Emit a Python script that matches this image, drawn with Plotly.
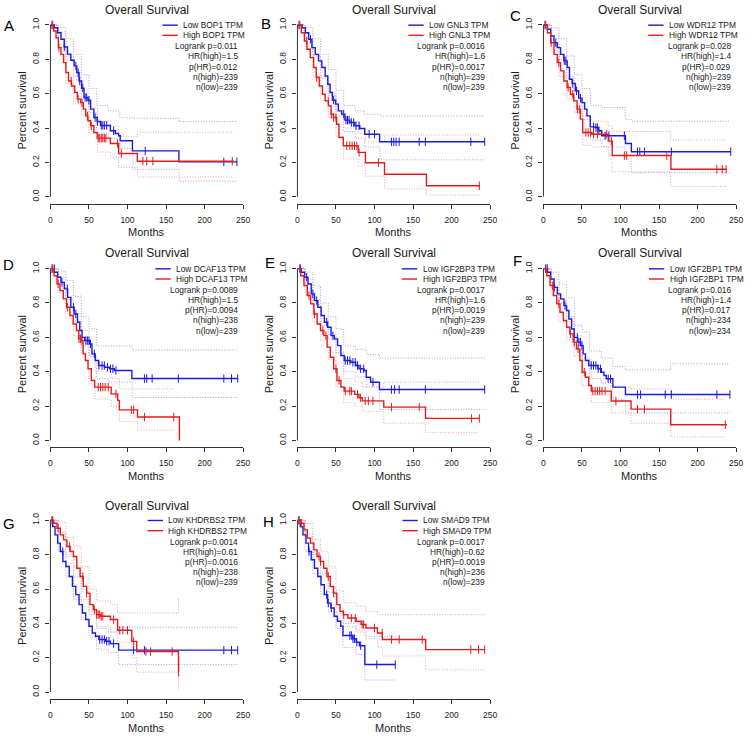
import plotly.graph_objects as go

W, H = 753, 736

# ---------------- DATA ----------------
# A: BOP1
BOP1_low_t = [0, 5.1, 9.4, 13.7, 17.9, 22.2, 26.5, 30.8, 34.2, 37.2, 40.6, 43.6, 48.7, 52.1, 56.4, 60.7, 65, 77.8, 84.2, 88.5, 90.6, 106.4, 166.7, 242.3]
BOP1_low_s = [1, 0.984, 0.955, 0.917, 0.872, 0.83, 0.795, 0.762, 0.723, 0.674, 0.632, 0.578, 0.562, 0.51, 0.461, 0.438, 0.415, 0.384, 0.368, 0.355, 0.326, 0.267, 0.203, 0.203]
BOP1_high_t = [0, 4.3, 7.3, 10.3, 13.7, 17.1, 20.1, 23.5, 27.4, 31.6, 35, 39.3, 42.7, 45.7, 48.7, 52.1, 56.4, 60.7, 77.8, 88.5, 112.8, 238]
BOP1_high_s = [1, 0.965, 0.926, 0.868, 0.829, 0.781, 0.723, 0.674, 0.645, 0.607, 0.568, 0.548, 0.51, 0.471, 0.442, 0.413, 0.374, 0.341, 0.31, 0.252, 0.207, 0.207]
BOP1_low_cens = [2, 18, 33, 36, 38, 42, 45, 47, 50, 58, 61, 66, 68, 70, 73, 82, 123, 225, 242]
BOP1_high_cens = [3, 11, 27, 36, 41, 48, 53, 62, 64, 66, 68, 70, 72, 87, 92, 120, 125, 133, 236]
BOP1_low_ci_t = [0, 10, 20, 30, 40, 50, 60, 75, 90, 107, 167, 242]
BOP1_low_up = [1, 0.985, 0.92, 0.83, 0.71, 0.63, 0.53, 0.50, 0.46, 0.457, 0.438, 0.438]
BOP1_low_lo = [1, 0.92, 0.82, 0.70, 0.57, 0.49, 0.37, 0.34, 0.28, 0.16, 0.09, 0.09]
BOP1_high_ci_t = [0, 10, 20, 30, 40, 50, 61, 78, 88.5, 112.8, 238]
BOP1_high_up = [1, 0.96, 0.79, 0.68, 0.62, 0.52, 0.44, 0.41, 0.35, 0.375, 0.375]
BOP1_high_lo = [1, 0.87, 0.66, 0.54, 0.48, 0.37, 0.26, 0.23, 0.17, 0.115, 0.115]

# B: GNL3
GNL3_low_t = [0, 6, 10.3, 14.6, 18.8, 23.1, 27.4, 31.7, 36, 39.4, 42.4, 45.4, 49.7, 53.1, 57.4, 61.6, 68.1, 74.5, 80.9, 87.3, 106.6, 243]
GNL3_low_s = [1, 0.984, 0.955, 0.917, 0.868, 0.829, 0.791, 0.752, 0.703, 0.655, 0.607, 0.562, 0.539, 0.5, 0.481, 0.446, 0.432, 0.413, 0.397, 0.364, 0.32, 0.32]
GNL3_high_t = [0, 5.1, 9, 12.4, 16.7, 21, 24.4, 28.3, 32.5, 36, 40.2, 43.7, 46.7, 50.9, 53.9, 59.5, 78.8, 88.2, 113, 167.4, 237]
GNL3_high_s = [1, 0.955, 0.907, 0.859, 0.81, 0.752, 0.694, 0.645, 0.597, 0.558, 0.529, 0.481, 0.461, 0.422, 0.345, 0.297, 0.258, 0.198, 0.131, 0.064, 0.064]
GNL3_low_cens = [2, 17, 47, 60, 63, 65, 67, 70, 73, 76, 80, 93, 100, 122, 125, 128, 132, 158, 166, 225, 243]
GNL3_high_cens = [3, 12, 25, 40, 44, 47, 50, 64, 68, 71, 74, 77, 80, 105, 236]
GNL3_low_ci_t = [0, 10, 20, 30, 40, 50, 60, 75, 87, 107, 243]
GNL3_low_up = [1, 0.985, 0.92, 0.83, 0.74, 0.62, 0.53, 0.50, 0.48, 0.47, 0.47]
GNL3_low_lo = [1, 0.92, 0.82, 0.70, 0.59, 0.47, 0.38, 0.34, 0.29, 0.215, 0.215]
GNL3_high_ci_t = [0, 10, 20, 30, 40, 50, 60, 79, 88, 113, 167, 237]
GNL3_high_up = [1, 0.95, 0.82, 0.69, 0.61, 0.50, 0.40, 0.37, 0.32, 0.36, 0.36, 0.36]
GNL3_high_lo = [1, 0.86, 0.70, 0.56, 0.46, 0.35, 0.22, 0.18, 0.12, 0.045, 0.01, 0.01]

# C: WDR12
WDR12_low_t = [0, 5.1, 9.4, 13.7, 17.9, 22.2, 26.5, 30.8, 33.8, 37.2, 41.5, 45.7, 50, 53.4, 56.4, 60.7, 67.1, 71.4, 75.6, 106.4, 114.1, 243]
WDR12_low_s = [1, 0.975, 0.936, 0.897, 0.868, 0.829, 0.791, 0.752, 0.684, 0.659, 0.616, 0.574, 0.548, 0.51, 0.471, 0.407, 0.403, 0.384, 0.355, 0.31, 0.262, 0.262]
WDR12_high_t = [0, 5.1, 9.4, 13.7, 17.9, 22.2, 26.5, 30.8, 35, 39.3, 43.6, 47.9, 50.9, 62.8, 84.2, 89.3, 165.4, 238]
WDR12_high_s = [1, 0.955, 0.897, 0.829, 0.781, 0.733, 0.674, 0.636, 0.597, 0.558, 0.51, 0.452, 0.374, 0.364, 0.324, 0.24, 0.16, 0.16]
WDR12_low_cens = [2, 16, 27, 29, 38, 43, 48, 65, 68, 70, 72, 80, 85, 105, 122, 125, 131, 166, 243]
WDR12_high_cens = [3, 10, 20, 32, 38, 44, 47, 55, 58, 61, 65, 70, 82, 88, 105, 108, 160, 225, 232, 237]
WDR12_low_ci_t = [0, 10, 20, 30, 40, 50, 61, 76, 106, 114, 243]
WDR12_low_up = [1, 0.985, 0.92, 0.82, 0.71, 0.63, 0.53, 0.52, 0.45, 0.44, 0.44]
WDR12_low_lo = [1, 0.89, 0.80, 0.69, 0.56, 0.47, 0.33, 0.29, 0.22, 0.14, 0.14]
WDR12_high_ci_t = [0, 10, 20, 30, 40, 51, 63, 84, 89, 165, 238]
WDR12_high_up = [1, 0.94, 0.82, 0.70, 0.62, 0.45, 0.44, 0.41, 0.38, 0.33, 0.33]
WDR12_high_lo = [1, 0.85, 0.70, 0.57, 0.49, 0.30, 0.29, 0.25, 0.145, 0.06, 0.06]

# D: DCAF13
DCAF13_low_t = [0, 5.1, 9.4, 13.7, 18, 22.3, 26.5, 30.8, 35.1, 38.1, 41.1, 44.5, 50.9, 53.9, 58.2, 62.5, 70.2, 76.6, 83, 105.7, 243]
DCAF13_low_s = [1, 0.979, 0.95, 0.92, 0.882, 0.833, 0.775, 0.736, 0.688, 0.64, 0.60, 0.581, 0.562, 0.504, 0.465, 0.436, 0.426, 0.417, 0.407, 0.36, 0.36]
DCAF13_high_t = [0, 4.7, 8.6, 12.4, 16.7, 21, 25.3, 29.5, 33.8, 36.8, 40.2, 42.4, 45.4, 48.8, 53.1, 57.4, 78.8, 87.3, 89.5, 113, 167.4]
DCAF13_high_s = [1, 0.959, 0.911, 0.872, 0.824, 0.775, 0.727, 0.678, 0.64, 0.591, 0.581, 0.504, 0.465, 0.417, 0.349, 0.31, 0.271, 0.233, 0.178, 0.136, 0.0]
DCAF13_low_cens = [2, 5, 15, 22, 30, 33, 46, 48, 50, 52, 57, 63, 67, 70, 74, 78, 81, 85, 122, 125, 132, 166, 225, 235, 243]
DCAF13_high_cens = [3, 10, 22, 37, 39, 41, 62, 65, 68, 71, 75, 85, 105, 108, 122, 160]
DCAF13_low_ci_t = [0, 10, 20, 30, 40, 50, 60, 75, 106, 243]
DCAF13_low_up = [1, 0.985, 0.93, 0.84, 0.72, 0.65, 0.55, 0.55, 0.527, 0.527]
DCAF13_low_lo = [1, 0.91, 0.82, 0.69, 0.55, 0.49, 0.36, 0.34, 0.25, 0.25]
DCAF13_high_ci_t = [0, 10, 20, 30, 40, 50, 58, 79, 89.5, 113, 160]
DCAF13_high_up = [1, 0.95, 0.83, 0.74, 0.64, 0.50, 0.40, 0.36, 0.30, 0.30, 0.30]
DCAF13_high_lo = [1, 0.86, 0.71, 0.61, 0.51, 0.33, 0.24, 0.20, 0.11, 0.06, 0.06]

# E: IGF2BP3
IGF2BP3_low_t = [0, 5.1, 9.4, 13.7, 17.9, 22.2, 26.5, 30.8, 35, 39.3, 43.6, 47.9, 52.1, 56.4, 60.7, 69.2, 75.6, 79.9, 86.3, 89.3, 94.9, 106.4, 243]
IGF2BP3_low_s = [1, 0.979, 0.95, 0.911, 0.853, 0.814, 0.775, 0.727, 0.688, 0.659, 0.61, 0.591, 0.552, 0.494, 0.465, 0.455, 0.436, 0.417, 0.407, 0.368, 0.339, 0.296, 0.296]
IGF2BP3_high_t = [0, 4.3, 8.5, 12.8, 17.1, 21.4, 25.6, 29.9, 34.2, 38.5, 42.7, 47, 51.3, 56.4, 60.7, 74.4, 79.9, 84.2, 112, 166.2, 236]
IGF2BP3_high_s = [1, 0.959, 0.901, 0.843, 0.795, 0.736, 0.678, 0.64, 0.61, 0.543, 0.484, 0.417, 0.349, 0.31, 0.287, 0.268, 0.248, 0.23, 0.194, 0.128, 0.128]
IGF2BP3_low_cens = [3, 12, 20, 25, 38, 46, 62, 65, 68, 72, 75, 78, 82, 86, 98, 122, 126, 132, 166, 243]
IGF2BP3_high_cens = [4, 15, 22, 33, 37, 50, 54, 62, 68, 70, 78, 82, 88, 92, 98, 122, 158, 226, 236]
IGF2BP3_low_ci_t = [0, 10, 20, 30, 40, 50, 60, 75, 90, 106.4, 243]
IGF2BP3_low_up = [1, 0.98, 0.90, 0.80, 0.72, 0.65, 0.55, 0.53, 0.50, 0.48, 0.48]
IGF2BP3_low_lo = [1, 0.91, 0.79, 0.67, 0.59, 0.51, 0.40, 0.37, 0.31, 0.18, 0.18]
IGF2BP3_high_ci_t = [0, 10, 20, 30, 40, 50, 60, 75, 84, 112, 166, 236]
IGF2BP3_high_up = [1, 0.94, 0.82, 0.71, 0.62, 0.45, 0.36, 0.34, 0.31, 0.34, 0.34, 0.34]
IGF2BP3_high_lo = [1, 0.85, 0.69, 0.58, 0.47, 0.31, 0.22, 0.20, 0.17, 0.10, 0.045, 0.045]

# F: IGF2BP1
IGF2BP1_low_t = [0, 5.2, 9.4, 13.7, 18, 22.3, 26.6, 30, 33, 36.5, 39.9, 44.2, 48.5, 51.5, 54.5, 58.8, 70.8, 75.1, 78.5, 81.5, 90.1, 106.4, 242]
IGF2BP1_low_s = [1, 0.979, 0.94, 0.891, 0.853, 0.824, 0.785, 0.756, 0.707, 0.649, 0.60, 0.572, 0.552, 0.504, 0.465, 0.436, 0.417, 0.397, 0.378, 0.359, 0.31, 0.267, 0.267]
IGF2BP1_high_t = [0, 4.3, 8.6, 12.9, 17.2, 21.5, 25.8, 30, 34.3, 38.6, 42.9, 47.2, 50.2, 54.5, 58.8, 62.2, 88, 113.7, 165.2, 238]
IGF2BP1_high_s = [1, 0.959, 0.901, 0.843, 0.795, 0.746, 0.698, 0.659, 0.62, 0.572, 0.533, 0.465, 0.397, 0.368, 0.32, 0.287, 0.229, 0.182, 0.091, 0.091]
IGF2BP1_low_cens = [3, 5, 14, 28, 44, 46, 48, 50, 62, 65, 68, 71, 74, 84, 87, 122, 126, 158, 166, 225, 242]
IGF2BP1_high_cens = [3, 12, 20, 35, 40, 45, 53, 64, 67, 70, 73, 76, 80, 94, 122, 131, 236]
IGF2BP1_low_ci_t = [0, 10, 20, 30, 40, 50, 60, 75, 90, 106.4, 165, 242]
IGF2BP1_low_up = [1, 0.98, 0.91, 0.83, 0.67, 0.63, 0.52, 0.48, 0.43, 0.41, 0.446, 0.446]
IGF2BP1_low_lo = [1, 0.90, 0.80, 0.69, 0.53, 0.48, 0.36, 0.33, 0.24, 0.16, 0.16, 0.16]
IGF2BP1_high_ci_t = [0, 10, 20, 30, 40, 50, 62, 88, 113.7, 165.2, 236]
IGF2BP1_high_up = [1, 0.94, 0.82, 0.72, 0.61, 0.47, 0.36, 0.31, 0.30, 0.24, 0.24]
IGF2BP1_high_lo = [1, 0.85, 0.69, 0.59, 0.49, 0.32, 0.22, 0.16, 0.10, 0.02, 0.02]

# G: KHDRBS2
KHDRBS2_low_t = [0, 3, 6, 9.4, 12.8, 16.2, 20.1, 24.4, 28.6, 32.9, 37.2, 41.5, 45.7, 50, 54.3, 58.5, 62.8, 71.4, 77.8, 88.5, 243]
KHDRBS2_low_s = [1, 0.963, 0.915, 0.867, 0.818, 0.76, 0.731, 0.673, 0.615, 0.567, 0.509, 0.46, 0.422, 0.383, 0.344, 0.325, 0.306, 0.296, 0.282, 0.244, 0.244]
KHDRBS2_high_t = [0, 4.3, 8.5, 12.8, 17.1, 21.4, 25.6, 29.9, 34.2, 38.5, 42.7, 47, 51.3, 55.6, 59.8, 65, 77.8, 87.2, 105.6, 112, 166.2]
KHDRBS2_high_s = [1, 0.983, 0.954, 0.915, 0.886, 0.847, 0.818, 0.789, 0.721, 0.673, 0.615, 0.576, 0.509, 0.48, 0.451, 0.441, 0.422, 0.36, 0.295, 0.236, 0.115]
KHDRBS2_low_cens = [2, 16, 64, 67, 70, 73, 76, 82, 108, 122, 225, 235, 243]
KHDRBS2_high_cens = [3, 10, 25, 42, 47, 57, 60, 62, 64, 66, 68, 82, 90, 94, 100, 108, 124, 130, 158, 166.2]
KHDRBS2_low_ci_t = [0, 10, 20, 30, 40, 50, 60, 75, 88.5, 243]
KHDRBS2_low_up = [1, 0.93, 0.79, 0.67, 0.54, 0.45, 0.37, 0.35, 0.377, 0.377]
KHDRBS2_low_lo = [1, 0.82, 0.67, 0.54, 0.42, 0.32, 0.25, 0.23, 0.16, 0.16]
KHDRBS2_high_ci_t = [0, 10, 20, 30, 40, 50, 60, 78, 87, 106, 112, 166.2]
KHDRBS2_high_up = [1, 0.99, 0.90, 0.85, 0.73, 0.60, 0.53, 0.51, 0.46, 0.46, 0.46, 0.553]
KHDRBS2_high_lo = [1, 0.92, 0.80, 0.73, 0.60, 0.47, 0.38, 0.35, 0.29, 0.20, 0.116, 0.015]

# H: SMAD9
SMAD9_low_t = [0, 3.8, 7.2, 11.1, 14.5, 17.9, 22.1, 26.4, 30.6, 34.9, 39.1, 43.4, 47.7, 51.9, 56.2, 59.1, 71.9, 76.2, 80.4, 87.5, 127]
SMAD9_low_s = [1, 0.963, 0.915, 0.867, 0.818, 0.77, 0.721, 0.673, 0.625, 0.567, 0.518, 0.489, 0.441, 0.412, 0.383, 0.329, 0.31, 0.29, 0.27, 0.16, 0.16]
SMAD9_high_t = [0, 4.3, 8.5, 12.8, 17, 21.3, 25.5, 29.8, 34, 38.3, 42.6, 46.8, 51.1, 55.3, 59.6, 65.5, 76.2, 82.6, 88.9, 103.8, 110.2, 166.4, 243]
SMAD9_high_s = [1, 0.983, 0.944, 0.896, 0.867, 0.828, 0.789, 0.76, 0.721, 0.673, 0.615, 0.576, 0.509, 0.47, 0.451, 0.431, 0.412, 0.393, 0.373, 0.344, 0.306, 0.247, 0.247]
SMAD9_low_cens = [2, 15, 38, 40, 44, 68, 70, 72, 74, 77, 82, 103, 127]
SMAD9_high_cens = [2, 5, 28, 30, 40, 47, 60, 70, 75, 84, 86, 100, 110, 122, 132, 162, 225, 235, 243]
SMAD9_low_ci_t = [0, 10, 20, 30, 40, 50, 59, 76, 87.5, 127]
SMAD9_low_up = [1, 0.92, 0.80, 0.69, 0.58, 0.49, 0.40, 0.36, 0.325, 0.325]
SMAD9_low_lo = [1, 0.82, 0.69, 0.57, 0.47, 0.37, 0.26, 0.22, 0.07, 0.07]
SMAD9_high_ci_t = [0, 10, 20, 30, 40, 50, 60, 76, 89, 104, 110.2, 166.4, 243]
SMAD9_high_up = [1, 0.98, 0.89, 0.82, 0.73, 0.59, 0.52, 0.50, 0.47, 0.45, 0.45, 0.45, 0.45]
SMAD9_high_lo = [1, 0.90, 0.79, 0.70, 0.61, 0.46, 0.38, 0.35, 0.31, 0.26, 0.21, 0.13, 0.13]

letters = ["A", "B", "C", "D", "E", "F", "G", "H"]
genes = ["BOP1", "GNL3", "WDR12", "DCAF13", "IGF2BP3", "IGF2BP1", "KHDRBS2", "SMAD9"]
logrank_p = ["0.011", "0.0016", "0.028", "0.0089", "0.0017", "0.016", "0.0014", "0.0017"]
hr_high = ["1.5", "1.6", "1.4", "1.5", "1.6", "1.4", "0.61", "0.62"]
p_hr = ["0.012", "0.0017", "0.029", "0.0094", "0.0019", "0.017", "0.0016", "0.0019"]
n_high = [239, 239, 239, 238, 239, 234, 238, 236]
n_low = [239, 239, 239, 239, 239, 234, 239, 239]
x_ticks = [0, 50, 100, 150, 200, 250]
y_ticks = [0, 0.2, 0.4, 0.6, 0.8, 1.0]
y_ticktext = ["0.0", "0.2", "0.4", "0.6", "0.8", "1.0"]

# ---------------- LAYOUT CONSTANTS (pixels) ----------------
col_left = [49, 299, 548]
plot_w = 195
row_top = [24, 268, 520]       # pixel of survival = 1.0
unit_h = 172                   # pixels per 1.0 of survival
title_y = [9, 252.7, 506]
months_y = [231, 476, 728]
letter_pos = [(7, 25), (267, 23), (520, 15), (7, 264), (271, 262), (522, 260), (7, 523), (270, 521)]
legend_text_x = [132.4, 131.3, 125, 125.3, 124.7, 125.7, 117.4, 125.3]

BLUE = "#1a1ae6"
RED = "#e61a1a"
LBLUE = "#a0a0f5"
LRED = "#f5a0a0"
FONT = "Liberation Sans, Arial, sans-serif"
TXT = "#1a1a1a"
SMALL = 8.4


def px(x):
    return x / W


def py(y):
    return 1 - y / H


def step_val(ts, ss, t):
    v = ss[0]
    for ti, si in zip(ts, ss):
        if ti <= t:
            v = si
    return v


g = globals()
fig = go.Figure()
annotations = []
shapes = []

for i, gene in enumerate(genes):
    r, c = divmod(i, 3)
    n = "" if i == 0 else str(i + 1)
    xa, ya = "x" + n, "y" + n
    x0 = col_left[c]
    x1 = x0 + plot_w
    ytop = row_top[r] - 0.04 * unit_h
    ybot = row_top[r] + unit_h + 0.04 * unit_h

    for grp, lcol in (("low", LBLUE), ("high", LRED)):
        ci_t = g[f"{gene}_{grp}_ci_t"]
        for key in ("up", "lo"):
            fig.add_trace(go.Scatter(x=ci_t, y=g[f"{gene}_{grp}_{key}"], mode="lines",
                                     line=dict(color=lcol, width=1, dash="1px,1.6px", shape="hv"),
                                     xaxis=xa, yaxis=ya, showlegend=False, hoverinfo="skip"))
    for grp, col in (("low", BLUE), ("high", RED)):
        ts = g[f"{gene}_{grp}_t"]
        ss = g[f"{gene}_{grp}_s"]
        fig.add_trace(go.Scatter(x=ts, y=ss, mode="lines",
                                 line=dict(color=col, width=1.4, shape="hv"),
                                 xaxis=xa, yaxis=ya, showlegend=False,
                                 name=f"{grp.capitalize()} {gene} TPM"))
        cens = g[f"{gene}_{grp}_cens"]
        fig.add_trace(go.Scatter(x=cens, y=[step_val(ts, ss, t) for t in cens], mode="markers",
                                 marker=dict(symbol="line-ns-open", size=6, color=col,
                                             line=dict(color=col, width=1)),
                                 xaxis=xa, yaxis=ya, showlegend=False, hoverinfo="skip"))

    fig.update_layout(**{
        "xaxis" + n: dict(domain=[px(x0), px(x1)], range=[0, 250], anchor=ya,
                          tickvals=x_ticks, ticks="outside", ticklen=4, tickwidth=1, tickcolor="#333",
                          showline=True, linecolor="#333", linewidth=1, showgrid=False, zeroline=False,
                          tickfont=dict(family=FONT, size=8.5, color=TXT), ticklabelstandoff=4),
        "yaxis" + n: dict(domain=[py(ybot), py(ytop)], range=[-0.04, 1.04], anchor=xa,
                          tickvals=y_ticks, ticktext=y_ticktext, tickangle=-90,
                          ticks="outside", ticklen=4, tickwidth=1, tickcolor="#333",
                          showline=False, showgrid=False, zeroline=False,
                          tickfont=dict(family=FONT, size=8.5, color=TXT), ticklabelstandoff=3),
    })
    # y axis line spanning 0..1
    shapes.append(dict(type="line", xref=xa + " domain", yref=ya, x0=0, x1=0, y0=0, y1=1,
                       line=dict(color="#333", width=1)))

    # titles
    annotations.append(dict(text="Overall Survival", x=px((x0 + x1) / 2), y=py(title_y[r]),
                            xref="paper", yref="paper", showarrow=False, xanchor="center", yanchor="middle",
                            font=dict(family=FONT, size=12, color=TXT)))
    annotations.append(dict(text="Months", x=px((x0 + x1) / 2), y=py(months_y[r]),
                            xref="paper", yref="paper", showarrow=False, xanchor="center", yanchor="middle",
                            font=dict(family=FONT, size=11, color=TXT)))
    annotations.append(dict(text="Percent survival", x=px(x0 - 29), y=py(row_top[r] + unit_h / 2),
                            xref="paper", yref="paper", showarrow=False, textangle=-90,
                            xanchor="center", yanchor="middle",
                            font=dict(family=FONT, size=11, color=TXT)))
    lx, ly = letter_pos[i]
    annotations.append(dict(text=letters[i], x=px(lx), y=py(ly), xref="paper", yref="paper",
                            showarrow=False, xanchor="center", yanchor="middle",
                            font=dict(family=FONT, size=15, color="#000")))

    # legend
    tx = x0 + legend_text_x[i]
    for k, (lab, col) in enumerate(((f"Low {gene} TPM", BLUE), (f"High {gene} TPM", RED))):
        yy = row_top[r] + 0.2 + k * 10.2
        annotations.append(dict(text=lab, x=px(tx), y=py(yy), xref="paper", yref="paper",
                                showarrow=False, xanchor="left", yanchor="middle",
                                font=dict(family=FONT, size=SMALL, color=TXT)))
        shapes.append(dict(type="line", xref="paper", yref="paper",
                           x0=px(tx - 19), x1=px(tx - 3.5), y0=py(yy), y1=py(yy),
                           line=dict(color=col, width=1.4)))
    stats = [f"Logrank p={logrank_p[i]}", f"HR(high)={hr_high[i]}", f"p(HR)={p_hr[i]}",
             f"n(high)={n_high[i]}", f"n(low)={n_low[i]}"]
    for k, s in enumerate(stats):
        yy = row_top[r] + 21.3 + k * 10.2
        annotations.append(dict(text=s, x=px(x0 + 191.5), y=py(yy), xref="paper", yref="paper",
                                showarrow=False, xanchor="right", yanchor="middle",
                                font=dict(family=FONT, size=SMALL, color=TXT)))

fig.update_layout(width=W, height=H, margin=dict(l=0, r=0, t=0, b=0),
                  paper_bgcolor="white", plot_bgcolor="white",
                  annotations=annotations, shapes=shapes, showlegend=False)

fig.write_html("out.html", config={"displayModeBar": False},
               post_script="document.body.style.margin='0';document.body.style.padding='0';"
                           "document.body.style.overflow='hidden';")
